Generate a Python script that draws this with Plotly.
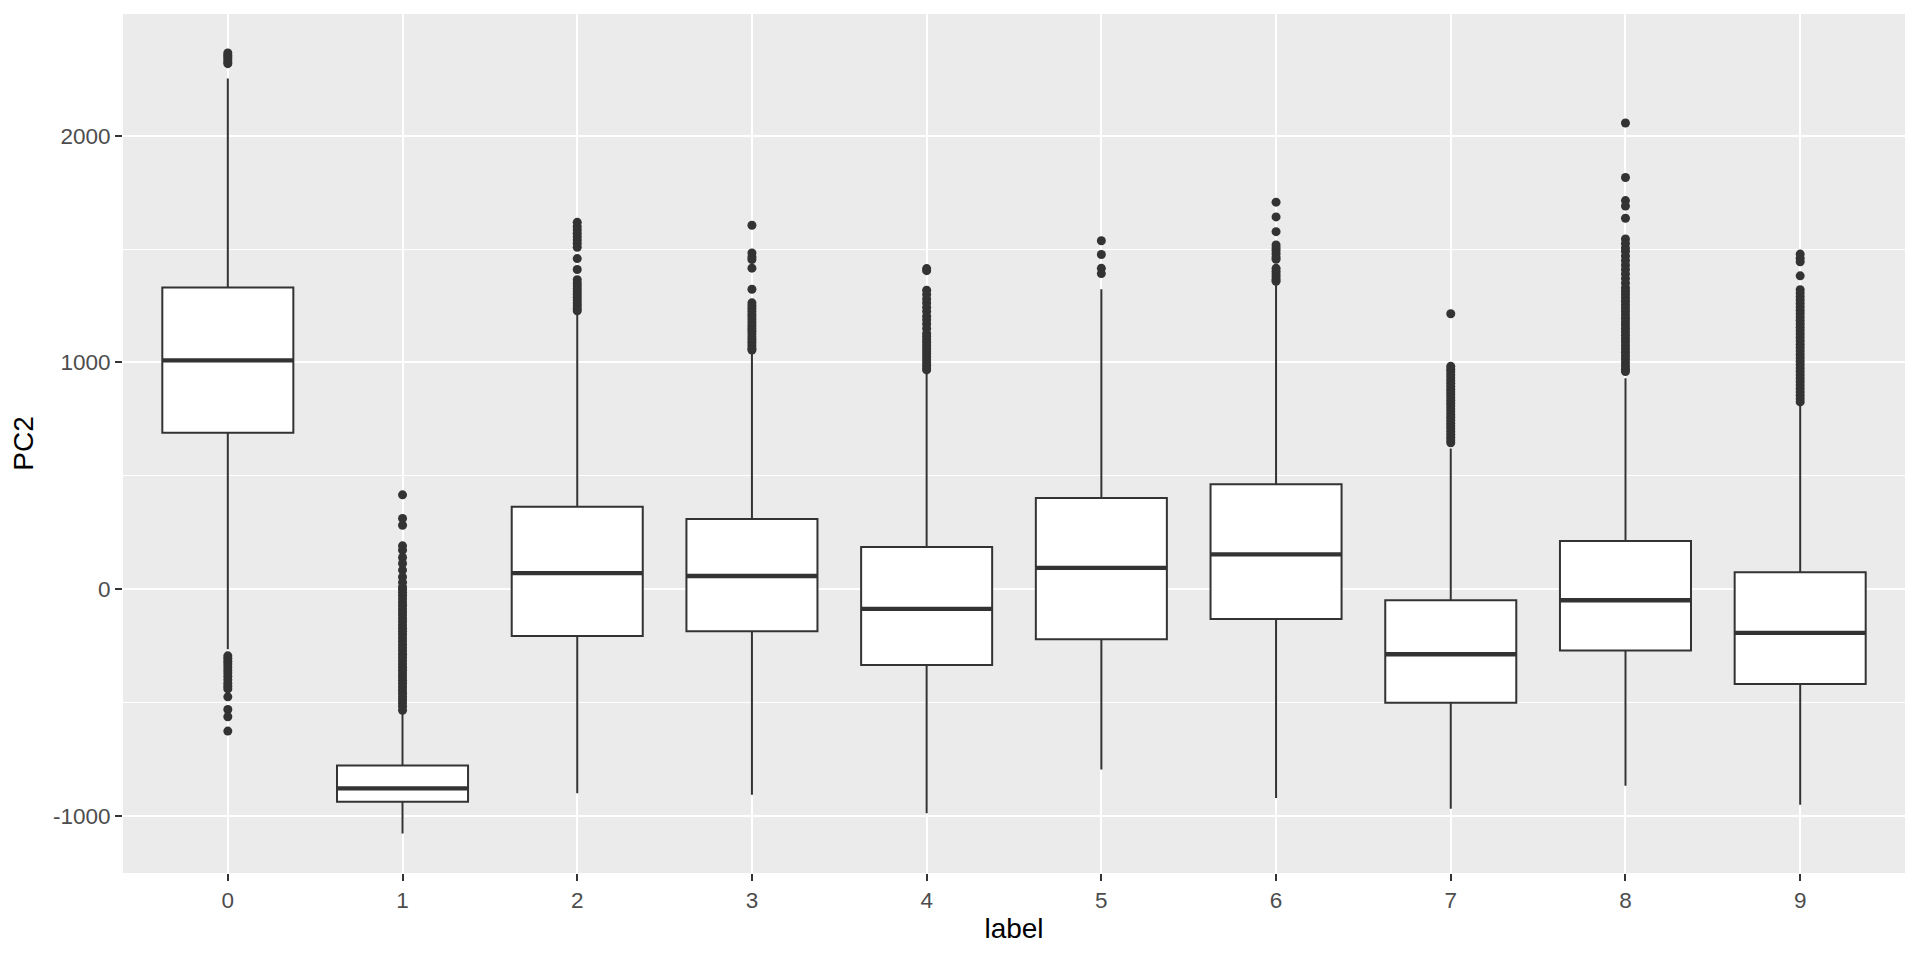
import plotly.graph_objects as go

categories = [0, 1, 2, 3, 4, 5, 6, 7, 8, 9]
cat_labels = ["0", "1", "2", "3", "4", "5", "6", "7", "8", "9"]

q1 = [690, -938, -207, -186, -334, -221, -132, -501, -271, -418]
median = [1009, -879, 71, 58, -87, 94, 153, -287, -49, -193]
q3 = [1331, -778, 364, 310, 186, 402, 463, -49, 212, 75]
lower_whisker = [-265, -1078, -900, -907, -988, -795, -921, -969, -867, -951]
upper_whisker = [2253, -545, 1215, 1040, 958, 1323, 1346, 620, 930, 810]

outliers_0 = [2365, 2355, 2345, 2335, 2325, 2318,
              -294, -305, -318, -330, -343, -357, -370, -385, -400, -415, -428, -440,
              -475, -531, -563, -626]
outliers_1 = [416, 312, 282, 191, 172, 140, 113, 84, 54, 30, 10,
              0, -14, -28, -42, -57, -71, -86, -100, -114, -129, -143, -158, -172,
              -186, -200, -215, -229, -244, -258, -272, -287, -301, -316, -330,
              -344, -358, -373, -387, -402, -416, -430, -445, -459, -474, -488,
              -502, -517, -534]
outliers_2 = [1618, 1600, 1585, 1570, 1555, 1540, 1525, 1508, 1458, 1410, 1365,
              1350, 1338, 1325, 1312, 1300, 1288, 1275, 1262, 1250, 1238, 1228]
outliers_3 = [1605, 1483, 1465, 1454, 1416, 1323,
              1263, 1250, 1238, 1225, 1212, 1200, 1188, 1175, 1162, 1150, 1138,
              1125, 1112, 1100, 1088, 1075, 1062, 1055]
outliers_4 = [1414, 1405, 1319, 1300, 1280, 1262, 1243, 1225, 1204, 1188, 1170,
              1150, 1128, 1115, 1100, 1088, 1075, 1062, 1050, 1038, 1025, 1012,
              1000, 988, 975, 967]
outliers_5 = [1537, 1476, 1415, 1392]
outliers_6 = [1707, 1642, 1577, 1518, 1505, 1494, 1480, 1465, 1455,
              1415, 1402, 1390, 1378, 1366, 1358]
outliers_7 = [1215, 983, 970, 958, 945, 932, 920, 908, 895, 882, 870, 858, 845,
              832, 820, 808, 795, 782, 770, 758, 745, 732, 720, 708, 695, 682,
              670, 658, 646]
outliers_8 = [2056, 1816, 1714, 1690, 1636, 1545, 1525, 1505, 1490, 1470, 1450,
              1430, 1410, 1390, 1370, 1350, 1330, 1315, 1300, 1285, 1270, 1255,
              1240, 1225, 1210, 1195, 1180, 1165, 1150, 1135, 1120, 1105, 1090,
              1075, 1060, 1045, 1030, 1015, 1000, 985, 970, 960]
outliers_9 = [1478, 1460, 1444, 1382, 1321, 1306, 1290, 1275, 1260, 1245, 1230,
              1215, 1200, 1185, 1170, 1155, 1140, 1125, 1110, 1095, 1080, 1065,
              1050, 1035, 1020, 1005, 990, 975, 960, 945, 930, 915, 900, 885,
              870, 855, 840, 826]

outliers = [outliers_0, outliers_1, outliers_2, outliers_3, outliers_4,
            outliers_5, outliers_6, outliers_7, outliers_8, outliers_9]

y_ticks = [-1000, 0, 1000, 2000]
y_tick_labels = ["-1000", "0", "1000", "2000"]
y_minor = [-500, 500, 1500]

BOX_W = 0.75
DARK = "#333333"

fig = go.Figure()

fig.add_trace(go.Box(
    x=categories, q1=q1, median=median, q3=q3,
    lowerfence=lower_whisker, upperfence=upper_whisker,
    boxpoints=False, width=BOX_W, whiskerwidth=0,
    fillcolor="white", line=dict(color=DARK, width=2),
    hoverinfo="skip", showlegend=False,
))

# thicker median lines (ggplot fatten)
mx, my = [], []
for c, m in zip(categories, median):
    mx += [c - BOX_W / 2, c + BOX_W / 2, None]
    my += [m, m, None]
fig.add_trace(go.Scatter(x=mx, y=my, mode="lines",
                         line=dict(color=DARK, width=4.3),
                         hoverinfo="skip", showlegend=False))

ox, oy = [], []
for c, vals in zip(categories, outliers):
    ox += [c] * len(vals)
    oy += vals
fig.add_trace(go.Scatter(x=ox, y=oy, mode="markers",
                         marker=dict(color=DARK, size=9, line=dict(width=0)),
                         hoverinfo="skip", showlegend=False))

# the page body adds an 8px offset, so the figure is sized to fit inside it
fig.update_layout(
    width=1904, height=944,
    paper_bgcolor="white", plot_bgcolor="#EBEBEB",
    margin=dict(l=115, r=7, t=6, b=79, autoexpand=False),
    font=dict(family="Liberation Sans, Arial, sans-serif"),
    xaxis=dict(
        range=[-0.6, 9.6], tickvals=categories, ticktext=cat_labels,
        showgrid=True, gridcolor="white", gridwidth=2, zeroline=False,
        ticks="outside", ticklen=7, tickwidth=2, tickcolor=DARK,
        tickfont=dict(size=22.5, color="#4D4D4D"),
        title=dict(text="label", font=dict(size=28, color="black"), standoff=6),
        showline=False, automargin=False,
    ),
    yaxis=dict(
        range=[-1252, 2537], tickvals=y_ticks, ticktext=y_tick_labels,
        showgrid=True, gridcolor="white", gridwidth=2, zeroline=False,
        ticks="outside", ticklen=7, tickwidth=2, tickcolor=DARK,
        tickfont=dict(size=22.5, color="#4D4D4D"),
        title=dict(text="PC2", font=dict(size=28, color="black"), standoff=14),
        minor=dict(tickvals=y_minor, showgrid=True, gridcolor="white",
                   gridwidth=1, ticks=""),
        showline=False, automargin=False,
    ),
)

fig.write_html("out.html")
